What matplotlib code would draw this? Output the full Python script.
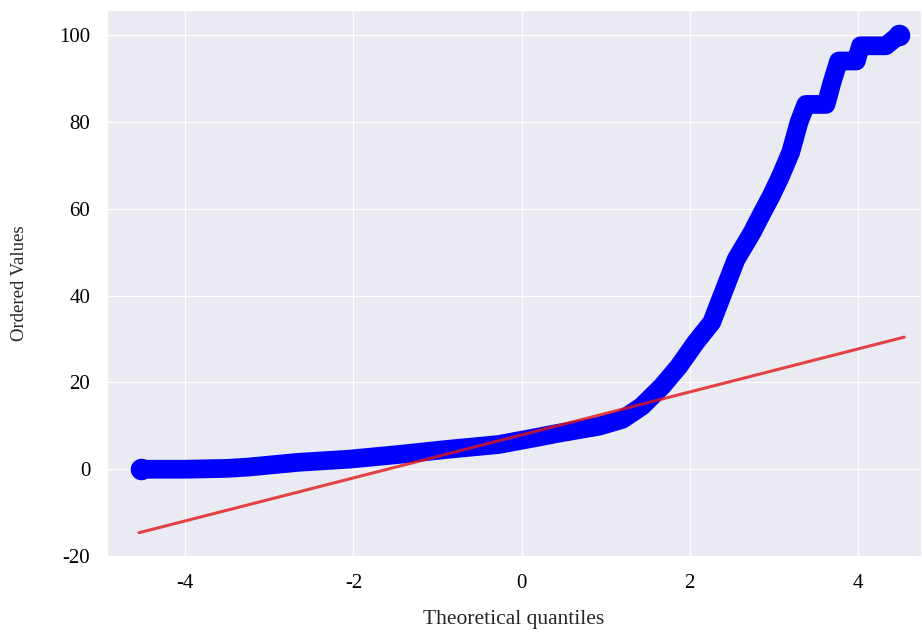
import numpy as np
import matplotlib
matplotlib.use("Agg")
import matplotlib.pyplot as plt
import seaborn as sns

sns.set_style("darkgrid")
plt.rcParams["font.family"] = ["Liberation Serif", "DejaVu Serif"]
plt.rcParams["axes.unicode_minus"] = False

# ordered values vs theoretical quantiles
theoretical_q = [-4.52, -4.0, -3.5, -3.25, -2.65, -2.06, -1.46, -0.87, -0.27, 0.2, 0.44,
                 0.92, 1.2, 1.43, 1.67, 1.87, 2.07, 2.26, 2.38, 2.55, 2.74, 2.86, 2.97,
                 3.08, 3.2, 3.3, 3.38, 3.5, 3.62, 3.69, 3.77, 3.9, 3.98, 4.03, 4.15,
                 4.33, 4.49]
ordered_vals = [0.0, 0.0, 0.2, 0.5, 1.6, 2.3, 3.4, 4.6, 5.7, 7.4, 8.3,
                9.9, 11.5, 14.5, 19.1, 23.7, 29.2, 33.8, 39.8, 48.3, 54.5, 59.0, 63.0,
                67.5, 73.0, 80.0, 84.0, 84.0, 84.0, 89.0, 94.0, 94.0, 94.0, 97.5, 97.5,
                97.5, 100.0]

# least squares fit line
fit_x = [-4.55, 4.55]
fit_slope = 4.95
fit_intercept = 7.9

x_ticks = [-4, -2, 0, 2, 4]
y_ticks = [-20, 0, 20, 40, 60, 80, 100]

fig = plt.figure(figsize=(9.22, 6.37), dpi=100)
ax = fig.add_axes([0.116, 0.127, 0.883, 0.857])

ax.plot(theoretical_q, ordered_vals, color="blue", linewidth=13.5,
        solid_capstyle="round", solid_joinstyle="round")
ax.plot(theoretical_q, ordered_vals, color="blue", linestyle="none", marker="o",
        markersize=14.5, markevery=[0, len(theoretical_q) - 1])
fx = np.array(fit_x)
ax.plot(fx, fit_slope * fx + fit_intercept, color="#e01818", alpha=0.8, linewidth=2.2)

ax.set_xlim(-4.93, 4.75)
ax.set_ylim(-19.8, 105.7)
ax.set_xticks(x_ticks)
ax.set_yticks(y_ticks)
ax.tick_params(axis="both", labelsize=15, colors="black", length=0)
ax.tick_params(axis="y", pad=12)
ax.tick_params(axis="x", pad=13)
ax.set_xlabel("Theoretical quantiles", fontsize=15.5)
ax.set_ylabel("Ordered Values", fontsize=13.5)
ax.xaxis.set_label_coords(0.5, -0.117)
ax.yaxis.set_label_coords(-0.107, 0.5)
ax.xaxis.label.set_va("center")
ax.yaxis.label.set_va("center")

fig.savefig("out.png", dpi=100)
